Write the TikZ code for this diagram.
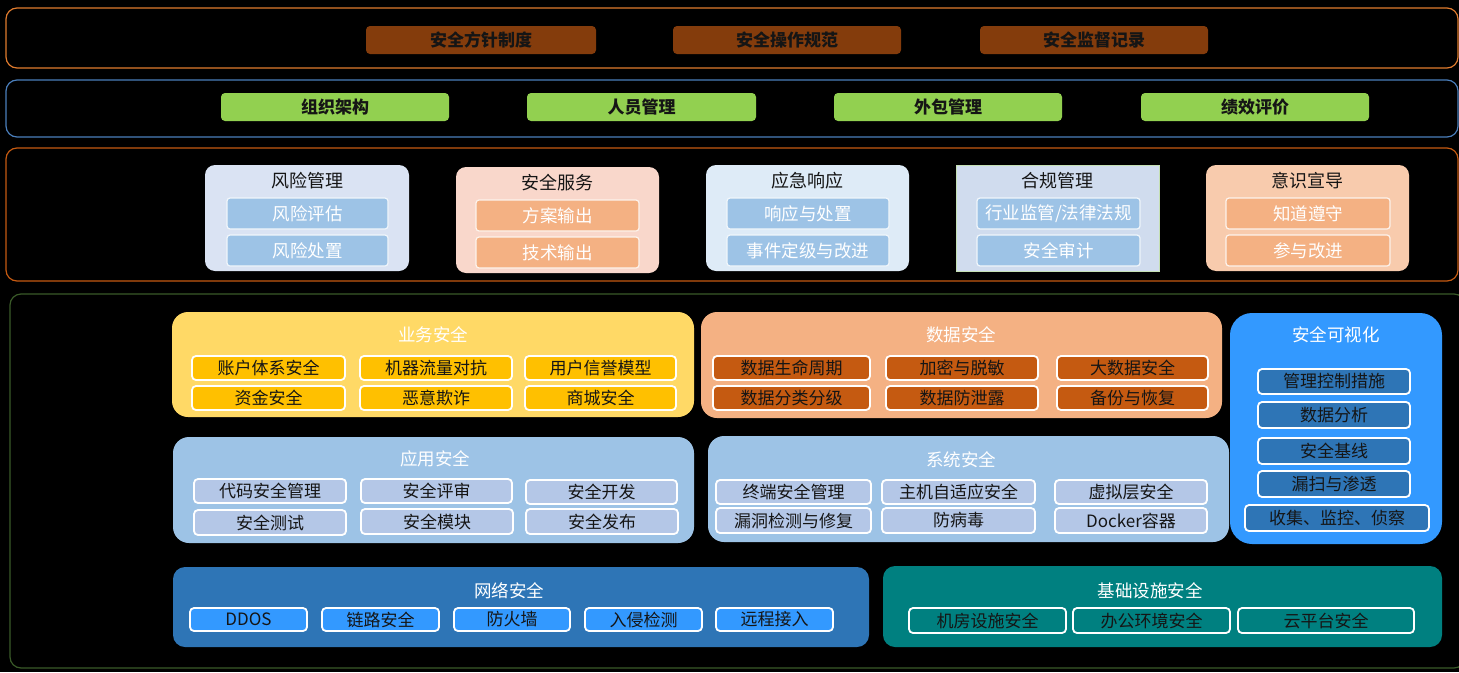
\documentclass[tikz,border=0pt]{standalone}
\usepackage{fontspec}
\setmainfont{Noto Sans CJK SC}
\definecolor{cBrown}{HTML}{843C0C}
\definecolor{cGreen}{HTML}{92D050}
\definecolor{cOrangeLine}{HTML}{E07B2E}
\definecolor{cBlueLine}{HTML}{4A7EBB}
\definecolor{cRustLine}{HTML}{C55A11}
\definecolor{cOliveLine}{HTML}{3A5A28}
\definecolor{cRiskBg}{HTML}{DAE3F3}
\definecolor{cSkySub}{HTML}{9DC3E6}
\definecolor{cServBg}{HTML}{F9D7CB}
\definecolor{cPeach}{HTML}{F4B183}
\definecolor{cEmergBg}{HTML}{DEEBF7}
\definecolor{cCompBg}{HTML}{D0DCEE}
\definecolor{cCompLine}{HTML}{C5E0B4}
\definecolor{cAwareBg}{HTML}{F8CBAD}
\definecolor{cYellow}{HTML}{FFD966}
\definecolor{cGold}{HTML}{FFC000}
\definecolor{cRust}{HTML}{C55A11}
\definecolor{cVis}{HTML}{3399FF}
\definecolor{cMidBlue}{HTML}{2E75B6}
\definecolor{cPale}{HTML}{B4C7E7}
\definecolor{cTeal}{HTML}{008080}
\definecolor{cInk}{HTML}{151515}
\newcommand\bx[7]{\node[#1, minimum width={(#5-#3)*1pt}, minimum height={(#6-#4)*1pt}] (#2) at ({(#3+#5)/2},{(#4+#6)/2}) {#7};}
\tikzset{
  base/.style={inner sep=0pt, outer sep=0pt, font=\fontsize{17}{19}\selectfont},
  frame/.style={base, draw=#1, line width=1.2pt, rounded corners=11pt},
  topbox/.style={base, fill=#1, rounded corners=4pt, text=cInk, font=\fontsize{17}{19}\selectfont\bfseries},
  grp/.style={base, fill=#1, rounded corners=10pt},
  grptitle/.style={base, text=#1, font=\fontsize{17.5}{19}\selectfont},
  lsub/.style={base, fill=#1, draw=white!85!#1, line width=1.2pt, rounded corners=3pt, text=white, font=\fontsize{17.5}{19}\selectfont},
  dsub/.style={base, fill=#1, draw=white, line width=1.8pt, rounded corners=4pt, text=cInk},
}
\begin{document}
\begin{tikzpicture}[x=1pt,y=-1pt]
\fill[black] (0,0) rectangle (1459,672);
\useasboundingbox (0,0) rectangle (1459,672);
% row 1
\bx{frame=cOrangeLine}{r1}{6}{8}{1458}{68}{}
\bx{topbox=cBrown}{p1}{366}{26}{596}{54}{安全方针制度}
\bx{topbox=cBrown}{p2}{673}{26}{901}{54}{安全操作规范}
\bx{topbox=cBrown}{p3}{980}{26}{1208}{54}{安全监督记录}
% row 2
\bx{frame=cBlueLine}{r2}{6}{80}{1458}{137}{}
\bx{topbox=cGreen}{o1}{221}{93}{449}{121}{组织架构}
\bx{topbox=cGreen}{o2}{527}{93}{756}{121}{人员管理}
\bx{topbox=cGreen}{o3}{834}{93}{1062}{121}{外包管理}
\bx{topbox=cGreen}{o4}{1141}{93}{1369}{121}{绩效评价}
% row 3
\bx{frame=cRustLine}{r3}{6}{148}{1458}{281}{}
\bx{grp=cRiskBg}{g1}{205}{165}{409}{271}{}
\node[grptitle=cInk, font=\fontsize{18}{20}\selectfont] (g1t) at (307,181) {风险管理};
\bx{lsub=cSkySub}{g1a}{227}{198}{388}{229}{风险评估}
\bx{lsub=cSkySub}{g1b}{227}{235}{388}{266}{风险处置}
\bx{grp=cServBg}{g2}{456}{167}{659}{273}{}
\node[grptitle=cInk, font=\fontsize{18}{20}\selectfont] (g2t) at (557,183) {安全服务};
\bx{lsub=cPeach}{g2a}{476}{200}{639}{231}{方案输出}
\bx{lsub=cPeach}{g2b}{476}{237}{639}{268}{技术输出}
\bx{grp=cEmergBg}{g3}{706}{165}{909}{271}{}
\node[grptitle=cInk, font=\fontsize{18}{20}\selectfont] (g3t) at (807,181) {应急响应};
\bx{lsub=cSkySub}{g3a}{727}{198}{889}{229}{响应与处置}
\bx{lsub=cSkySub}{g3b}{727}{235}{889}{266}{事件定级与改进}
\bx{base, fill=cCompBg, draw=cCompLine, line width=0.8pt}{g4}{956}{165}{1159}{271}{}
\node[grptitle=cInk, font=\fontsize{18}{20}\selectfont] (g4t) at (1057,181) {合规管理};
\bx{lsub=cSkySub}{g4a}{977}{198}{1140}{229}{行业监管/法律法规}
\bx{lsub=cSkySub}{g4b}{977}{235}{1140}{266}{安全审计}
\bx{grp=cAwareBg}{g5}{1206}{165}{1409}{271}{}
\node[grptitle=cInk, font=\fontsize{18}{20}\selectfont] (g5t) at (1307,181) {意识宣导};
\bx{lsub=cPeach}{g5a}{1226}{198}{1390}{229}{知道遵守}
\bx{lsub=cPeach}{g5b}{1226}{235}{1390}{266}{参与改进}
% row 4
\bx{frame=cOliveLine}{r4}{10}{294}{1465}{668}{}
% business
\bx{grp=cYellow, rounded corners=16pt}{b}{172}{312}{694}{417}{}
\node[grptitle=white] (bt) at (433,335) {业务安全};
\bx{dsub=cGold}{b1}{192}{356}{345}{380}{账户体系安全}
\bx{dsub=cGold}{b2}{360}{356}{512}{380}{机器流量对抗}
\bx{dsub=cGold}{b3}{525}{356}{676}{380}{用户信誉模型}
\bx{dsub=cGold}{b4}{192}{386}{345}{410}{资金安全}
\bx{dsub=cGold}{b5}{360}{386}{512}{410}{恶意欺诈}
\bx{dsub=cGold}{b6}{525}{386}{676}{410}{商城安全}
% data
\bx{grp=cPeach, rounded corners=16pt}{d}{701}{312}{1222}{418}{}
\node[grptitle=white] (dt) at (961,335) {数据安全};
\bx{dsub=cRust}{d1}{713}{356}{870}{380}{数据生命周期}
\bx{dsub=cRust}{d2}{886}{356}{1038}{380}{加密与脱敏}
\bx{dsub=cRust}{d3}{1057}{356}{1208}{380}{大数据安全}
\bx{dsub=cRust}{d4}{713}{386}{870}{410}{数据分类分级}
\bx{dsub=cRust}{d5}{886}{386}{1038}{410}{数据防泄露}
\bx{dsub=cRust}{d6}{1057}{386}{1208}{410}{备份与恢复}
% visualization
\bx{grp=cVis, rounded corners=22pt}{v}{1230}{313}{1442}{544}{}
\node[grptitle=white] (vt) at (1336,335) {安全可视化};
\bx{dsub=cMidBlue}{v1}{1258}{369}{1410}{394}{管理控制措施}
\bx{dsub=cMidBlue}{v2}{1258}{402}{1410}{428}{数据分析}
\bx{dsub=cMidBlue}{v3}{1258}{438}{1410}{464}{安全基线}
\bx{dsub=cMidBlue}{v4}{1258}{471}{1410}{497}{漏扫与渗透}
\bx{dsub=cMidBlue}{v5}{1245}{505}{1429}{531}{收集、监控、侦察}
% application
\bx{grp=cSkySub, rounded corners=16pt}{a}{173}{437}{694}{543}{}
\node[grptitle=white] (at) at (435,459) {应用安全};
\bx{dsub=cPale}{a1}{194}{479}{346}{503}{代码安全管理}
\bx{dsub=cPale}{a2}{361}{479}{512}{503}{安全评审}
\bx{dsub=cPale}{a3}{526}{480}{677}{504}{安全开发}
\bx{dsub=cPale}{a4}{194}{510}{346}{535}{安全测试}
\bx{dsub=cPale}{a5}{361}{509}{513}{534}{安全模块}
\bx{dsub=cPale}{a6}{526}{509}{678}{534}{安全发布}
% system
\bx{grp=cSkySub, rounded corners=16pt}{s}{708}{436}{1229}{542}{}
\node[grptitle=white] (st) at (961,460) {系统安全};
\bx{dsub=cPale}{s1}{716}{480}{871}{504}{终端安全管理}
\bx{dsub=cPale}{s2}{882}{480}{1035}{504}{主机自适应安全}
\bx{dsub=cPale}{s3}{1055}{480}{1207}{504}{虚拟层安全}
\bx{dsub=cPale}{s4}{716}{508}{871}{533}{漏洞检测与修复}
\bx{dsub=cPale}{s5}{882}{508}{1035}{533}{防病毒}
\bx{dsub=cPale}{s6}{1055}{508}{1207}{533}{Docker容器}
% network
\bx{grp=cMidBlue, rounded corners=12pt}{n}{173}{567}{869}{647}{}
\node[grptitle=white] (nt) at (509,591) {网络安全};
\bx{dsub=cVis}{n1}{190}{608}{307}{631}{DDOS}
\bx{dsub=cVis}{n2}{322}{608}{439}{631}{链路安全}
\bx{dsub=cVis}{n3}{454}{608}{570}{631}{防火墙}
\bx{dsub=cVis}{n4}{585}{608}{702}{631}{入侵检测}
\bx{dsub=cVis}{n5}{716}{608}{833}{631}{远程接入}
% infrastructure
\bx{grp=cTeal, rounded corners=12pt}{f}{883}{566}{1442}{647}{}
\node[grptitle=white] (ft) at (1150,591) {基础设施安全};
\bx{dsub=cTeal}{f1}{909}{608}{1066}{633}{机房设施安全}
\bx{dsub=cTeal}{f2}{1073}{608}{1230}{633}{办公环境安全}
\bx{dsub=cTeal}{f3}{1238}{608}{1414}{633}{云平台安全}
\end{tikzpicture}
\end{document}
